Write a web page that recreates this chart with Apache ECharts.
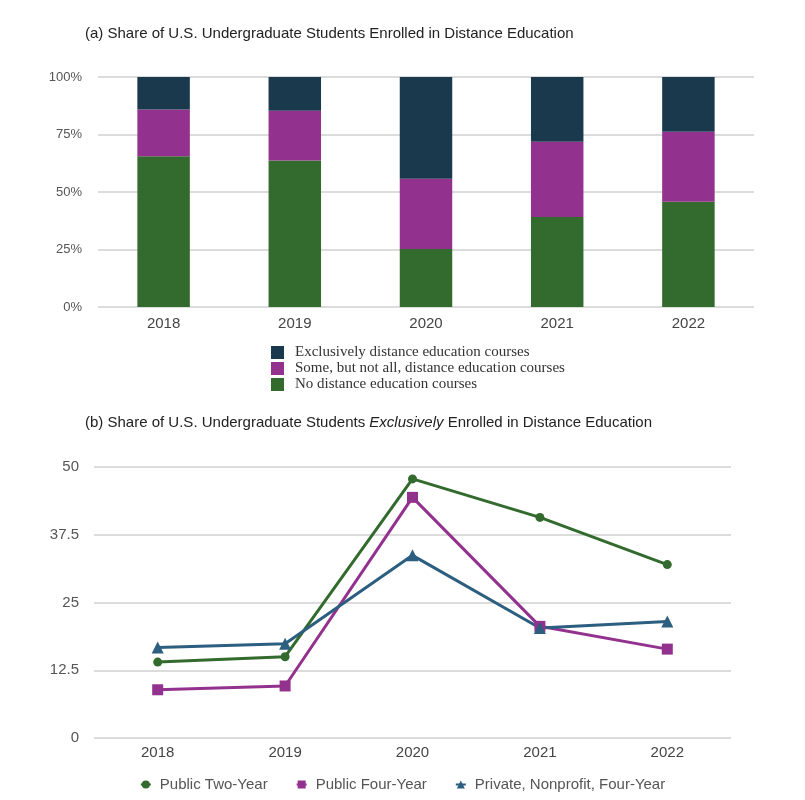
<!DOCTYPE html>
<html>
<head>
<meta charset="utf-8">
<script src="https://cdn.jsdelivr.net/npm/echarts@6/dist/echarts.min.js"></script>
<style>
html,body{margin:0;padding:0;background:#fff;}
#c{width:805px;height:800px;}
</style>
</head>
<body>
<div id="c"></div>
<script>
// ---- Data ----
const years = ['2018', '2019', '2020', '2021', '2022'];
// Panel (a): percentage shares (stacked to 100%)
const noDistance = [65.5, 63.7, 25.2, 39.1, 45.8];
const someDistance = [20.4, 21.6, 30.6, 32.8, 30.4];
const exclusiveDistance = [14.1, 14.7, 44.2, 28.1, 23.8];
// Panel (b): share exclusively enrolled in distance education
const publicTwoYear = [14.0, 15.0, 47.8, 40.7, 32.0];
const publicFourYear = [8.9, 9.6, 44.4, 20.6, 16.4];
const privateNonprofit = [16.7, 17.4, 33.7, 20.3, 21.5];
const pctTicks = [0, 25, 50, 75, 100];
const lineTicks = [0, 12.5, 25, 37.5, 50];

const cGreen = '#336a2d', cPurple = '#93328e', cNavy = '#1b394d', cBlue = '#2c5e80';
const sans = 'Liberation Sans, Arial, Helvetica, sans-serif';
const serif = 'Liberation Serif, Times New Roman, serif';

const chart = echarts.init(document.getElementById('c'), null, {renderer: 'canvas'});
const option = {
  backgroundColor: '#ffffff',
  animation: false,
  textStyle: {fontFamily: sans},
  title: [
    {text: '(a) Share of U.S. Undergraduate Students Enrolled in Distance Education',
     left: 80, top: 21, textStyle: {fontSize: 15, fontWeight: 'normal', color: '#222', fontFamily: sans}},
    {text: '{n|(b) Share of U.S. Undergraduate Students }{i|Exclusively}{n| Enrolled in Distance Education}',
     left: 80, top: 410,
     textStyle: {fontSize: 15, fontWeight: 'normal', color: '#222', fontFamily: sans,
       rich: {n: {fontSize: 15, color: '#222', fontFamily: sans},
              i: {fontSize: 15, color: '#222', fontStyle: 'italic', fontFamily: sans}}}}
  ],
  grid: [
    {left: 98, right: 51, top: 77, height: 230, containLabel: false},
    {left: 94, right: 74, top: 467, height: 271, containLabel: false}
  ],
  legend: [
    {orient: 'vertical', left: 266, top: 340, itemWidth: 13, itemHeight: 13, itemGap: 1, icon: 'rect',
     data: ['Exclusively distance education courses', 'Some, but not all, distance education courses', 'No distance education courses'],
     textStyle: {fontFamily: serif, fontSize: 15, color: '#333', padding: [0, 0, 0, 6]}},
    {orient: 'horizontal', left: 'center', top: 772, itemWidth: 10, itemHeight: 10, itemGap: 28,
     data: ['Public Two-Year', 'Public Four-Year', 'Private, Nonprofit, Four-Year'],
     textStyle: {fontFamily: sans, fontSize: 15, color: '#555', padding: [0, 0, 0, 4]}}
  ],
  xAxis: [
    {type: 'category', gridIndex: 0, data: years, boundaryGap: true,
     axisLine: {show: false}, axisTick: {show: false},
     axisLabel: {fontSize: 15, color: '#444', margin: 9}},
    {type: 'category', gridIndex: 1, data: years, boundaryGap: true,
     axisLine: {show: false}, axisTick: {show: false},
     axisLabel: {fontSize: 15, color: '#444', margin: 7}}
  ],
  yAxis: [
    {type: 'value', gridIndex: 0, min: pctTicks[0], max: pctTicks[pctTicks.length - 1], interval: pctTicks[1] - pctTicks[0],
     axisLabel: {formatter: '{value}%', fontSize: 13, color: '#555', margin: 16},
     axisLine: {show: false}, axisTick: {show: false},
     splitLine: {lineStyle: {color: '#dcdcdc', width: 2}}},
    {type: 'value', gridIndex: 1, min: lineTicks[0], max: lineTicks[lineTicks.length - 1], interval: lineTicks[1] - lineTicks[0],
     axisLabel: {fontSize: 15, color: '#555', margin: 15},
     axisLine: {show: false}, axisTick: {show: false},
     splitLine: {lineStyle: {color: '#dcdcdc', width: 2}}}
  ],
  series: [
    {name: 'No distance education courses', type: 'bar', stack: 'a', xAxisIndex: 0, yAxisIndex: 0,
     data: noDistance, barWidth: '40%', itemStyle: {color: cGreen}},
    {name: 'Some, but not all, distance education courses', type: 'bar', stack: 'a', xAxisIndex: 0, yAxisIndex: 0,
     data: someDistance, barWidth: '40%', itemStyle: {color: cPurple}},
    {name: 'Exclusively distance education courses', type: 'bar', stack: 'a', xAxisIndex: 0, yAxisIndex: 0,
     data: exclusiveDistance, barWidth: '40%', itemStyle: {color: cNavy}},
    {name: 'Public Two-Year', type: 'line', xAxisIndex: 1, yAxisIndex: 1, data: publicTwoYear,
     symbol: 'circle', symbolSize: 9, lineStyle: {width: 3, color: cGreen}, itemStyle: {color: cGreen}},
    {name: 'Public Four-Year', type: 'line', xAxisIndex: 1, yAxisIndex: 1, data: publicFourYear,
     symbol: 'rect', symbolSize: 11, lineStyle: {width: 3, color: cPurple}, itemStyle: {color: cPurple}},
    {name: 'Private, Nonprofit, Four-Year', type: 'line', xAxisIndex: 1, yAxisIndex: 1, data: privateNonprofit,
     symbol: 'triangle', symbolSize: 12, lineStyle: {width: 3, color: cBlue}, itemStyle: {color: cBlue}}
  ]
};
chart.setOption(option);
</script>
</body>
</html>
